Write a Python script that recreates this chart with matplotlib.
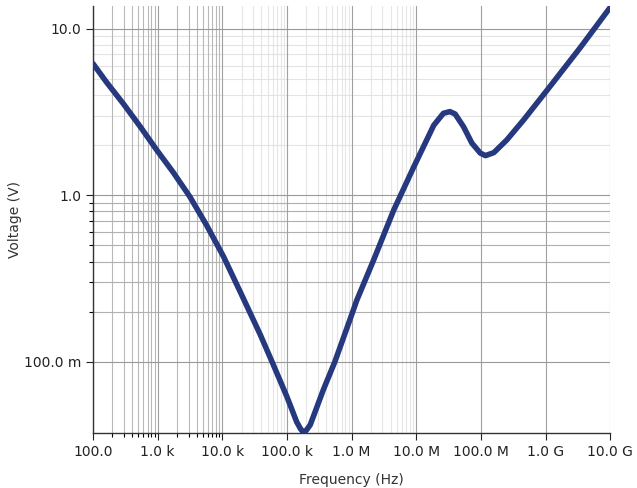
import numpy as np
import matplotlib
matplotlib.use("Agg")
import matplotlib.pyplot as plt
from matplotlib.ticker import FixedLocator, FuncFormatter, NullFormatter

# values (log10 of frequency in Hz, log10 of voltage in V)
log_freq = [2.00, 2.21, 2.47, 2.73, 2.99, 3.24, 3.50, 3.76, 4.02, 4.28, 4.35,
            4.585, 4.77, 5.00, 5.15, 5.21, 5.256, 5.30, 5.36, 5.565, 5.74, 5.98,
            6.08, 6.34, 6.65, 6.96, 7.06, 7.27, 7.42, 7.52, 7.60, 7.73, 7.86,
            7.99, 8.07, 8.20, 8.40, 8.66, 9.02, 9.54, 10.0]
log_volt = [0.790, 0.678, 0.549, 0.412, 0.269, 0.138, -0.010, -0.182, -0.369,
            -0.582, -0.640, -0.835, -1.000, -1.210, -1.360, -1.402, -1.425,
            -1.410, -1.378, -1.165, -1.000, -0.740, -0.630, -0.389, -0.090,
            0.169, 0.250, 0.420, 0.492, 0.502, 0.488, 0.412, 0.313, 0.253,
            0.238, 0.256, 0.332, 0.452, 0.629, 0.888, 1.128]

freq = 10.0 ** np.array(log_freq)
volt = 10.0 ** np.array(log_volt)

x_major = [1e2, 1e3, 1e4, 1e5, 1e6, 1e7, 1e8, 1e9, 1e10]
y_major = [0.1, 1.0, 10.0]
x_minor_dark = [m * d for d in (1e2, 1e3) for m in range(2, 10)]
x_minor_light = [m * d for d in (1e4, 1e5, 1e6) for m in range(2, 10)]
y_minor_dark = [m * 0.1 for m in range(2, 10)]
y_minor_light = [m * 1.0 for m in range(2, 10)]


def eng(v, pos=None):
    prefixes = [(1e9, "G"), (1e6, "M"), (1e3, "k"), (1.0, ""), (1e-3, "m")]
    for scale, p in prefixes:
        if v >= scale * 0.999:
            s = "%.1f" % (v / scale)
            return s + (" " + p if p else "")
    return "%.1f" % v


fig = plt.figure(figsize=(6.37, 4.88), dpi=100)
ax = fig.add_axes([0.146, 0.113, 0.812, 0.875])

for x in x_minor_light:
    ax.axvline(x, color="#e6e6e6", lw=0.8, zorder=0)
for y in y_minor_light:
    ax.axhline(y, color="#e3e3e3", lw=0.8, zorder=0)
for x in x_minor_dark:
    ax.axvline(x, color="#b8b8b8", lw=0.8, zorder=0.5)
for y in y_minor_dark:
    ax.axhline(y, color="#b0b0b0", lw=0.8, zorder=0.5)
for x in x_major:
    ax.axvline(x, color="#a0a0a0", lw=0.8, zorder=0.6)
for y in y_major:
    ax.axhline(y, color="#999999", lw=0.8, zorder=0.6)

ax.plot(freq, volt, color="#26397f", lw=4.0, solid_capstyle="round",
        solid_joinstyle="round", zorder=3)

ax.set_xscale("log")
ax.set_yscale("log")
ax.set_xlim(1e2, 1e10)
ax.set_ylim(0.0375, 13.7)

ax.xaxis.set_major_locator(FixedLocator(x_major))
ax.xaxis.set_minor_locator(FixedLocator(x_minor_dark))
ax.yaxis.set_major_locator(FixedLocator(y_major))
ax.yaxis.set_minor_locator(FixedLocator(y_minor_dark))
ax.xaxis.set_major_formatter(FuncFormatter(eng))
ax.yaxis.set_major_formatter(FuncFormatter(eng))
ax.xaxis.set_minor_formatter(NullFormatter())
ax.yaxis.set_minor_formatter(NullFormatter())

ax.tick_params(which="major", length=5, width=0.8, labelsize=10, colors="#222222")
ax.tick_params(which="minor", length=3, width=0.8)
ax.spines["top"].set_visible(False)
ax.spines["right"].set_visible(False)
for s in ("left", "bottom"):
    ax.spines[s].set_color("#333333")
    ax.spines[s].set_linewidth(1.0)

ax.set_xlabel("Frequency (Hz)", fontsize=10, color="#333333", labelpad=10)
ax.set_ylabel("Voltage (V)", fontsize=10, color="#333333", labelpad=1)

fig.savefig("out.png", dpi=100)
